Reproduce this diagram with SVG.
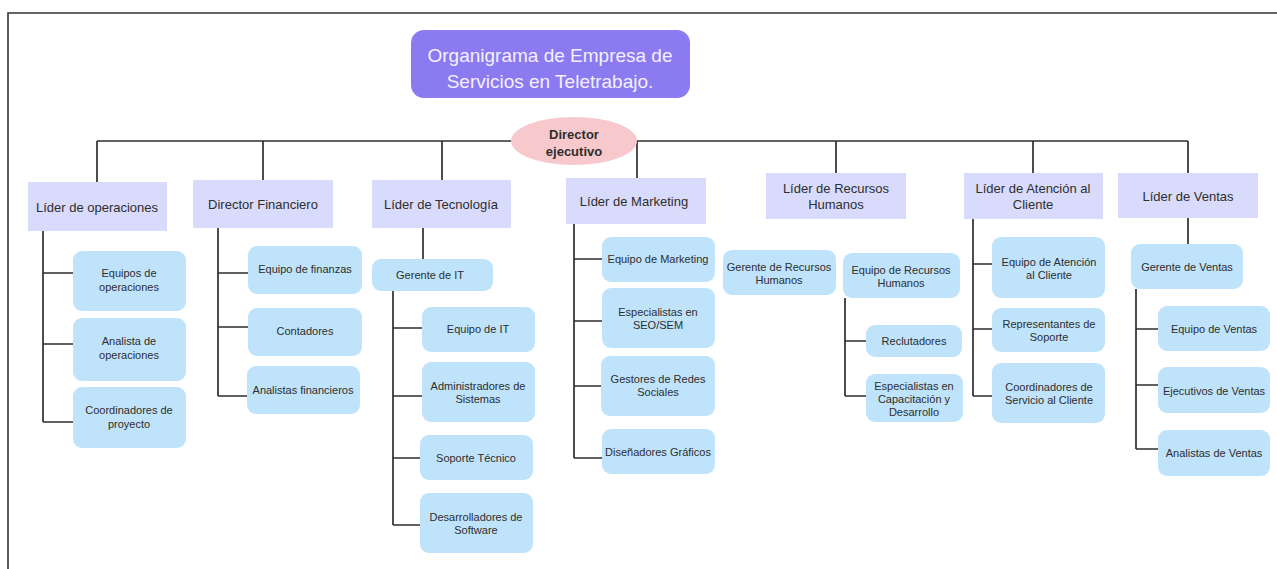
<svg xmlns="http://www.w3.org/2000/svg" width="1277" height="569" viewBox="0 0 1277 569">
<style>
.t{font-family:"Liberation Sans",Arial,sans-serif;fill:#2e2e2e;text-anchor:middle;dominant-baseline:central}
.lead{fill:#d8dbfb}
.box{fill:#bfe3fb}
.l13{font-size:13px}
.l11{font-size:11px}
.ln{stroke:#2e2e2e;stroke-width:1.7;fill:none}
</style>
<rect x="0" y="0" width="1277" height="569" fill="#ffffff"/>
<path d="M8 569 V13 H1277" stroke="#333" stroke-width="1.6" fill="none"/>

<g id="connectors" class="ln">
<path d="M97 141 H1188"/>
<path d="M97 141 V182 M263 141 V180 M442 141 V180 M637 141 V178 M836 141 V173 M1033 141 V173 M1188 141 V173"/>
<path d="M43 231 V422 M43 273 H73 M43 344 H73 M43 422 H73"/>
<path d="M218 228 V396 M218 273 H248 M218 327 H248 M218 396 H247"/>
<path d="M423 228 V259 M393 291 V525 M393 328 H422 M393 396 H422 M393 458 H420 M393 525 H422"/>
<path d="M574 224 V458 M574 259 H602 M574 321 H602 M574 386 H602 M574 458 H602"/>
<path d="M845 298 V396 M845 341 H866 M845 396 H866"/>
<path d="M973 219 V396 M973 264 H992 M973 329 H992 M973 396 H992"/>
<path d="M1188 218 V244 M1136 289 V449 M1136 329 H1158 M1136 385 H1158 M1136 449 H1158"/>
</g>

<g id="title">
<rect x="411" y="30" width="279" height="68" rx="13" fill="#8c7af1"/>
<text class="t" x="550" y="55" style="font-size:19px;fill:#f3f1ff">Organigrama de Empresa de</text>
<text class="t" x="550" y="81" style="font-size:19px;fill:#f3f1ff">Servicios en Teletrabajo.</text>
</g>

<g id="ceo">
<ellipse cx="574" cy="141" rx="63" ry="24" fill="#f8c9cc"/>
<text class="t l13" x="574" y="134" font-weight="bold">Director</text>
<text class="t l13" x="574" y="151" font-weight="bold">ejecutivo</text>
</g>

<g id="lider-operaciones"><rect class="lead" x="28" y="182" width="139" height="49"/><text class="t l13" x="97" y="207">Líder de operaciones</text></g>
<g id="director-financiero"><rect class="lead" x="193" y="180" width="140" height="48"/><text class="t l13" x="263" y="204">Director Financiero</text></g>
<g id="lider-tecnologia"><rect class="lead" x="372" y="180" width="139" height="48"/><text class="t l13" x="441" y="204">Líder de Tecnología</text></g>
<g id="lider-marketing"><rect class="lead" x="566" y="178" width="140" height="46"/><text class="t l13" x="634" y="201">Líder de Marketing</text></g>
<g id="lider-rrhh"><rect class="lead" x="766" y="173" width="140" height="46"/><text class="t l13" x="836" y="188">Líder de Recursos</text><text class="t l13" x="836" y="204">Humanos</text></g>
<g id="lider-atencion"><rect class="lead" x="964" y="173" width="139" height="46"/><text class="t l13" x="1033" y="188">Líder de Atención al</text><text class="t l13" x="1033" y="204">Cliente</text></g>
<g id="lider-ventas"><rect class="lead" x="1118" y="173" width="140" height="45"/><text class="t l13" x="1188" y="196">Líder de Ventas</text></g>

<g id="equipos-operaciones"><rect class="box" x="73" y="251" width="113" height="60" rx="9"/><text class="t l11" x="129" y="273">Equipos de</text><text class="t l11" x="129" y="287">operaciones</text></g>
<g id="analista-operaciones"><rect class="box" x="73" y="318" width="113" height="63" rx="9"/><text class="t l11" x="129" y="341">Analista de</text><text class="t l11" x="129" y="355">operaciones</text></g>
<g id="coordinadores-proyecto"><rect class="box" x="73" y="387" width="113" height="61" rx="9"/><text class="t l11" x="129" y="410">Coordinadores de</text><text class="t l11" x="129" y="424">proyecto</text></g>

<g id="equipo-finanzas"><rect class="box" x="248" y="246" width="114" height="48" rx="9"/><text class="t l11" x="305" y="269">Equipo de finanzas</text></g>
<g id="contadores"><rect class="box" x="248" y="308" width="114" height="48" rx="9"/><text class="t l11" x="305" y="331">Contadores</text></g>
<g id="analistas-financieros"><rect class="box" x="247" y="366" width="113" height="48" rx="9"/><text class="t l11" x="303" y="390">Analistas financieros</text></g>

<g id="gerente-it"><rect class="box" x="372" y="259" width="121" height="32" rx="9"/><text class="t l11" x="430" y="275">Gerente de IT</text></g>
<g id="equipo-it"><rect class="box" x="422" y="307" width="113" height="45" rx="9"/><text class="t l11" x="478" y="329">Equipo de IT</text></g>
<g id="administradores-sistemas"><rect class="box" x="422" y="362" width="113" height="60" rx="9"/><text class="t l11" x="478" y="386">Administradores de</text><text class="t l11" x="478" y="399">Sistemas</text></g>
<g id="soporte-tecnico"><rect class="box" x="420" y="435" width="113" height="45" rx="9"/><text class="t l11" x="476" y="458">Soporte Técnico</text></g>
<g id="desarrolladores-software"><rect class="box" x="420" y="493" width="113" height="60" rx="9"/><text class="t l11" x="476" y="517">Desarrolladores de</text><text class="t l11" x="476" y="530">Software</text></g>

<g id="equipo-marketing"><rect class="box" x="602" y="237" width="113" height="45" rx="9"/><text class="t l11" x="658" y="259">Equipo de Marketing</text></g>
<g id="especialistas-seo"><rect class="box" x="602" y="288" width="113" height="60" rx="9"/><text class="t l11" x="658" y="312">Especialistas en</text><text class="t l11" x="658" y="325">SEO/SEM</text></g>
<g id="gestores-redes"><rect class="box" x="601" y="356" width="114" height="60" rx="9"/><text class="t l11" x="658" y="379">Gestores de Redes</text><text class="t l11" x="658" y="392">Sociales</text></g>
<g id="disenadores-graficos"><rect class="box" x="602" y="429" width="113" height="45" rx="9"/><text class="t l11" x="658" y="452">Diseñadores Gráficos</text></g>

<g id="gerente-rrhh"><rect class="box" x="723" y="250" width="113" height="45" rx="9"/><text class="t l11" x="779" y="267">Gerente de Recursos</text><text class="t l11" x="779" y="280">Humanos</text></g>
<g id="equipo-rrhh"><rect class="box" x="843" y="253" width="117" height="45" rx="9"/><text class="t l11" x="901" y="270">Equipo de Recursos</text><text class="t l11" x="901" y="283">Humanos</text></g>
<g id="reclutadores"><rect class="box" x="866" y="325" width="96" height="32" rx="9"/><text class="t l11" x="914" y="341">Reclutadores</text></g>
<g id="especialistas-capacitacion"><rect class="box" x="866" y="374" width="97" height="48" rx="9"/><text class="t l11" x="914" y="386">Especialistas en</text><text class="t l11" x="914" y="399">Capacitación y</text><text class="t l11" x="914" y="412">Desarrollo</text></g>

<g id="equipo-atencion"><rect class="box" x="992" y="237" width="113" height="61" rx="9"/><text class="t l11" x="1049" y="262">Equipo de Atención</text><text class="t l11" x="1049" y="275">al Cliente</text></g>
<g id="representantes-soporte"><rect class="box" x="992" y="308" width="113" height="44" rx="9"/><text class="t l11" x="1049" y="324">Representantes de</text><text class="t l11" x="1049" y="337">Soporte</text></g>
<g id="coordinadores-servicio"><rect class="box" x="992" y="363" width="113" height="60" rx="9"/><text class="t l11" x="1049" y="387">Coordinadores de</text><text class="t l11" x="1049" y="400">Servicio al Cliente</text></g>

<g id="gerente-ventas"><rect class="box" x="1131" y="244" width="112" height="45" rx="9"/><text class="t l11" x="1187" y="267">Gerente de Ventas</text></g>
<g id="equipo-ventas"><rect class="box" x="1158" y="306" width="112" height="45" rx="9"/><text class="t l11" x="1214" y="329">Equipo de Ventas</text></g>
<g id="ejecutivos-ventas"><rect class="box" x="1158" y="367" width="112" height="46" rx="9"/><text class="t l11" x="1214" y="391">Ejecutivos de Ventas</text></g>
<g id="analistas-ventas"><rect class="box" x="1158" y="430" width="112" height="46" rx="9"/><text class="t l11" x="1214" y="453">Analistas de Ventas</text></g>
</svg>
